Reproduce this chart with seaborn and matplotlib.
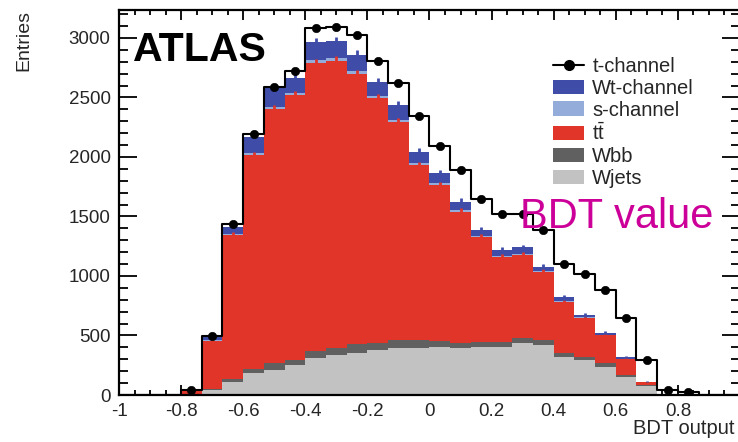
import numpy as np
import pandas as pd
import matplotlib
matplotlib.use("Agg")
import matplotlib.pyplot as plt
import seaborn as sns
from matplotlib.lines import Line2D
from matplotlib.patches import Patch
from matplotlib.ticker import MultipleLocator

# ---------------- data (30 bins of width 1/15 on [-1, 1]) ----------------
bin_lo, bin_hi, n_bins = -1.0, 1.0, 30

wjets = [0, 0, 0, 5, 40, 112, 182, 210, 252, 308, 336, 355, 378, 392, 392,
         406, 392, 406, 400, 440, 420, 322, 294, 232, 148, 75, 0, 0, 0, 0]
wbb = [0, 0, 0, 3, 10, 22, 36, 56, 42, 62, 61, 71, 62, 70, 70,
       50, 42, 36, 48, 36, 42, 28, 28, 34, 20, 9, 0, 0, 0, 0]
ttbar = [0, 0, 0, 32, 400, 1211, 1798, 2134, 2226, 2421, 2413, 2274, 2055, 1834, 1470,
         1308, 1106, 888, 714, 700, 574, 434, 328, 238, 134, 24, 3, 0, 0, 0]
s_channel = [0, 0, 0, 0, 8, 12, 15, 18, 18, 20, 20, 20, 18, 17, 15,
             14, 12, 10, 9, 10, 8, 7, 5, 4, 3, 1, 0, 0, 0, 0]
wt_channel = [0, 0, 0, 2, 27, 53, 139, 158, 122, 154, 145, 140, 119, 123, 97,
              84, 72, 46, 47, 54, 34, 29, 17, 15, 12, 3, 1, 0, 0, 0]
t_channel = [0, 0, 0, 3, 7, 30, 20, 9, 60, 120, 115, 165, 178, 189, 301,
             228, 266, 258, 302, 280, 312, 280, 343, 362, 328, 178, 34, 22, 0, 0]
# small MC statistical uncertainty marks (entries)
mc_err = [0, 0, 0, 5, 15, 25, 30, 35, 35, 35, 35, 35, 35, 32, 30,
          28, 28, 25, 22, 22, 20, 18, 15, 12, 10, 5, 0, 0, 0, 0]

processes = ["Wt-channel", "s-channel", r"$\mathregular{t\bar{t}}$", "Wbb", "Wjets"]
colors = ["#3f4ca8", "#93acd9", "#e2352a", "#606060", "#c2c2c2"]

# ---------------- build tables ----------------
edges = np.linspace(bin_lo, bin_hi, n_bins + 1)
centers = 0.5 * (edges[:-1] + edges[1:])
bin_list = edges.tolist()
bkg_values = [wt_channel, s_channel, ttbar, wbb, wjets]
df_bkg = pd.concat([pd.DataFrame({"bdt": centers, "entries": v, "process": p})
                    for p, v in zip(processes, bkg_values)], ignore_index=True)
total = np.sum([np.array(v) for v in bkg_values + [t_channel]], axis=0)
df_tot = pd.DataFrame({"bdt": centers, "entries": total})
df_pts = df_tot[df_tot["entries"] > 0]
red_top = np.array(wjets) + np.array(wbb) + np.array(ttbar)
blue_top = red_top + np.array(s_channel) + np.array(wt_channel)
has = np.array(mc_err) > 0

# ---------------- style ----------------
sns.set_theme(style="white")
plt.rcParams["font.family"] = ["Liberation Sans", "DejaVu Sans"]
plt.rcParams["mathtext.fontset"] = "custom"
plt.rcParams["mathtext.rm"] = "Liberation Sans"

fig = plt.figure(figsize=(7.38, 4.42), dpi=100)
ax = fig.add_axes([119 / 738, 47 / 442, 621 / 738, 385 / 442])

sns.histplot(data=df_bkg, x="bdt", weights="entries", hue="process",
             hue_order=processes, palette=colors, multiple="stack",
             bins=bin_list, element="step", fill=True, alpha=1, linewidth=0,
             legend=False, ax=ax)

# MC stat marks on the red and blue tops
ax.errorbar(centers[has], red_top[has], yerr=np.array(mc_err)[has], fmt="none",
            ecolor=colors[2], elinewidth=2.0, capsize=0, zorder=3)
ax.errorbar(centers[has], blue_top[has], yerr=np.array(mc_err)[has], fmt="none",
            ecolor=colors[0], elinewidth=2.0, capsize=0, zorder=3)

sns.histplot(data=df_tot, x="bdt", weights="entries", bins=bin_list,
             element="step", fill=False, color="black", linewidth=1.5, ax=ax)
sns.scatterplot(data=df_pts, x="bdt", y="entries", color="black", s=36,
                edgecolor="black", zorder=5, ax=ax)

ax.set_xlim(bin_lo, bin_hi)
ax.set_ylim(0, 3235)
ax.xaxis.set_minor_locator(MultipleLocator(0.05))
ax.yaxis.set_major_locator(MultipleLocator(500))
ax.yaxis.set_minor_locator(MultipleLocator(100))
ax.set_xticks(np.round(np.arange(-1.0, 1.01, 0.2), 1))
ax.set_xticklabels(["-1", "-0.8", "-0.6", "-0.4", "-0.2", "0", "0.2", "0.4", "0.6", "0.8", ""])

ax.tick_params(which="both", direction="in", top=True, right=True, bottom=True,
               left=True, color="black")
ax.tick_params(axis="y", which="major", length=13, width=1.3, labelsize=13.5, pad=6)
ax.tick_params(axis="y", which="minor", length=6.5, width=1.3)
ax.tick_params(axis="x", which="major", length=7.5, width=1.3, labelsize=13.5, pad=6)
ax.tick_params(axis="x", which="minor", length=3.5, width=1.3)
for sp in ax.spines.values():
    sp.set_linewidth(1.6)
    sp.set_color("black")

ax.set_ylabel("Entries", loc="top", fontsize=14)
ax.yaxis.set_label_coords(-0.14, 1.0)
ax.set_xlabel("BDT output", fontsize=14.5)
ax.xaxis.set_label_coords((633 - 119) / 621, -0.062)
ax.xaxis.label.set_ha("left")
ax.xaxis.label.set_va("top")

ax.text(0.023, 0.945, "ATLAS", transform=ax.transAxes, fontsize=29.5,
        fontweight="bold", ha="left", va="top", color="black")
fig.text(520 / 738, 1 - 228 / 442, "BDT value", fontsize=30, color="#cc0099",
         ha="left", va="baseline")

handles = [Line2D([0], [0], color="black", lw=1.5, marker="o", markersize=7)]
handles += [Patch(facecolor=c, edgecolor="none") for c in colors]
labels = ["t-channel"] + processes
fig.legend(handles, labels, loc="upper left", bbox_to_anchor=(553 / 738, 1 - 57 / 442),
           frameon=False, fontsize=14.5, handlelength=1.55, handleheight=0.72,
           handletextpad=0.4, labelspacing=0.14, borderpad=0, borderaxespad=0)

fig.savefig("out.png", dpi=100)
